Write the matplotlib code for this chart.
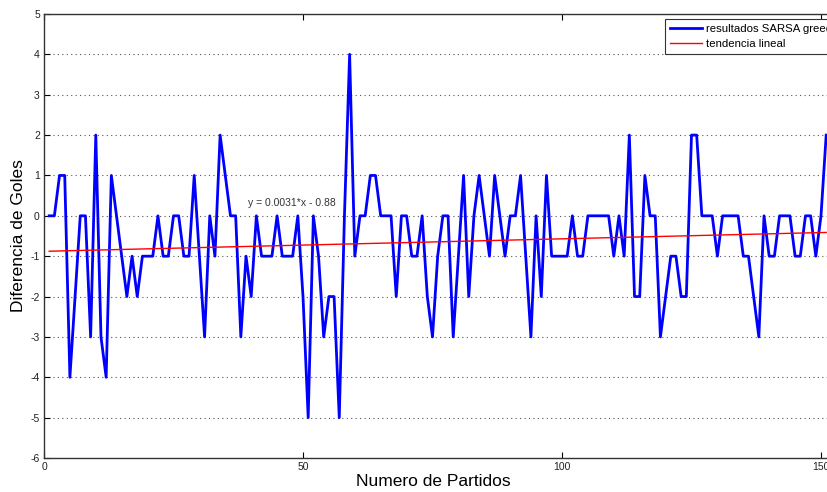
import numpy as np
import matplotlib
matplotlib.use('Agg')
import matplotlib.pyplot as plt

plt.rcParams['font.family'] = ['Liberation Sans', 'DejaVu Sans']
plt.rcParams['axes.unicode_minus'] = False

# goal difference per game (game number 1..151)
partidos = list(range(1, 152))
diferencia = [
    0, 0, 1, 1, -4, -2, 0, 0, -3, 2,
    -3, -4, 1, 0, -1, -2, -1, -2, -1, -1,
    -1, 0, -1, -1, 0, 0, -1, -1, 1, -1,
    -3, 0, -1, 2, 1, 0, 0, -3, -1, -2,
    0, -1, -1, -1, 0, -1, -1, -1, 0, -2,
    -5, 0, -1, -3, -2, -2, -5, 0, 4, -1,
    0, 0, 1, 1, 0, 0, 0, -2, 0, 0,
    -1, -1, 0, -2, -3, -1, 0, 0, -3, -1,
    1, -2, 0, 1, 0, -1, 1, 0, -1, 0,
    0, 1, -1, -3, 0, -2, 1, -1, -1, -1,
    -1, 0, -1, -1, 0, 0, 0, 0, 0, -1,
    0, -1, 2, -2, -2, 1, 0, 0, -3, -2,
    -1, -1, -2, -2, 2, 2, 0, 0, 0, -1,
    0, 0, 0, 0, -1, -1, -2, -3, 0, -1,
    -1, 0, 0, 0, -1, -1, 0, 0, -1, 0,
    2,
]
# linear trend shown in the chart
pendiente = 0.0031
intercepto = -0.88

x = np.array(partidos)
tendencia = np.polyval([pendiente, intercepto], x)

fig = plt.figure(figsize=(8.27, 4.92), dpi=100)
ax = fig.add_axes([44/827, 34/492, 828.8/827, 444/492])

ax.plot(x, diferencia, color='#0000ff', lw=2, label='resultados SARSA greedy', zorder=3)
ax.plot(x, tendencia, color='#ff0000', lw=1, label='tendencia lineal', zorder=4)

ax.set_xlim(0, 160)
ax.set_ylim(-6, 5)
ax.set_xticks([0, 50, 100, 150])
ax.set_yticks(range(-6, 6))
ax.grid(axis='y', linestyle=(0, (1, 3)), color='#555555', lw=0.8)
ax.tick_params(direction='in', length=4, width=0.8, labelsize=7.5,
               labelcolor='#222222', top=True, right=False, pad=3)
for side in ['top', 'left', 'bottom']:
    ax.spines[side].set_color('#333333')
    ax.spines[side].set_linewidth(1)
ax.spines['right'].set_visible(False)

ax.set_xlabel('Numero de Partidos', fontsize=12.5)
ax.set_ylabel('Diferencia de Goles', fontsize=12.5)
ax.xaxis.set_label_coords((433 - 44)/828.8, (458 - 474)/444)
ax.yaxis.set_label_coords((26 - 44)/828.8, 0.5)

ax.text(39.4, 0.31, 'y = 0.0031*x - 0.88', fontsize=7.5, color='#333333',
        va='center', ha='left')

leg = ax.legend(loc='upper left', bbox_to_anchor=(665/827, 1 - 19/492),
                bbox_transform=fig.transFigure, fontsize=8.2, fancybox=False,
                edgecolor='#333333', framealpha=1, handlelength=2.8,
                borderpad=0.45, borderaxespad=0, labelspacing=0.4,
                handletextpad=0.35)
leg.get_frame().set_linewidth(0.8)

plt.savefig('out.png', dpi=100)
